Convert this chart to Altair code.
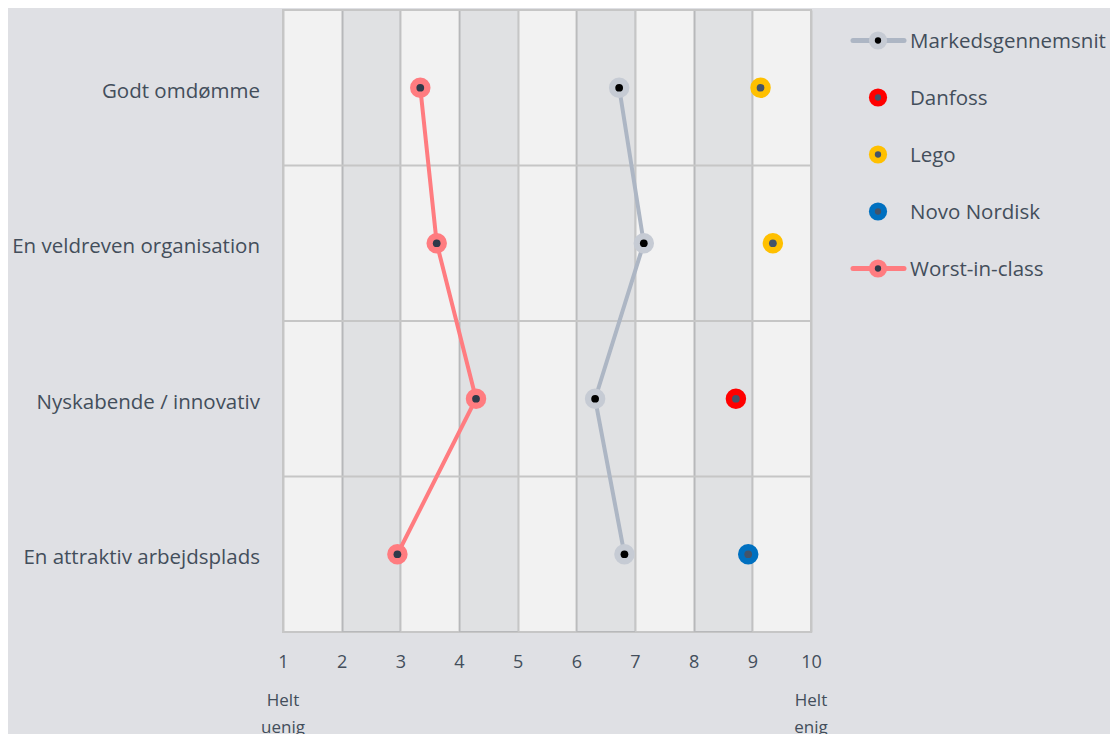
import altair as alt
import pandas as pd

# ---- data ----
categories = ["Godt omdømme", "En veldreven organisation",
              "Nyskabende / innovativ", "En attraktiv arbejdsplads"]
series_names = ["Markedsgennemsnit", "Danfoss", "Lego", "Novo Nordisk", "Worst-in-class"]

market_avg = [6.73, 7.15, 6.32, 6.82]
worst_in_class = [3.34, 3.62, 4.29, 2.95]
danfoss_cats = ["Nyskabende / innovativ"]
danfoss_vals = [8.72]
lego_cats = ["Godt omdømme", "En veldreven organisation"]
lego_vals = [9.14, 9.35]
novo_cats = ["En attraktiv arbejdsplads"]
novo_vals = [8.93]

x_ticks = list(range(1, 11))
dark_stripe_starts = [2, 4, 6, 8]
scale_end_values = [1, 10]
scale_end_labels = ["Helt\nuenig", "Helt\nenig"]

# ---- styles ----
outer_colors = ["#c6cbd4", "#ff0000", "#ffc000", "#0070c0", "#ff7c80"]
inner_colors = ["#000000", "#44546a", "#44546a", "#44546a", "#2f3a4a"]
line_series = ["Markedsgennemsnit", "Worst-in-class"]
line_colors = ["#adb6c4", "#ff7c80"]
TEXT = "#434e5b"
GRID = "#c6c6c6"
FONT = "Open Sans"

outer_map = dict(zip(series_names, outer_colors))
inner_map = dict(zip(series_names, inner_colors))
line_map = dict(zip(line_series, line_colors))

rows = []
for s, cats, vals in [
    ("Markedsgennemsnit", categories, market_avg),
    ("Worst-in-class", categories, worst_in_class),
    ("Danfoss", danfoss_cats, danfoss_vals),
    ("Lego", lego_cats, lego_vals),
    ("Novo Nordisk", novo_cats, novo_vals),
]:
    for c, v in zip(cats, vals):
        rows.append({"series": s, "category": c, "value": v,
                     "idx": categories.index(c),
                     "outer": outer_map[s], "inner": inner_map[s],
                     "line": line_map.get(s, "")})
df = pd.DataFrame(rows)
lines_df = df[df["series"].isin(line_series)]
cat_df = pd.DataFrame({"category": categories})

stripes_df = pd.DataFrame({"start": dark_stripe_starts})
ends_df = pd.DataFrame({"pos": scale_end_values, "label": scale_end_labels})

W, H = 528, 622

xscale = alt.Scale(domain=[1, 10], nice=False, zero=False)
xaxis = alt.Axis(values=x_ticks, title=None, format="d", labelFontSize=18,
                 labelColor=TEXT, labelFont=FONT, ticks=False, domain=False,
                 grid=True, gridColor=GRID, gridWidth=2, labelPadding=21,
                 labelFlush=False)
yscale = alt.Scale(type="band", paddingInner=0, paddingOuter=0)
yenc = alt.Y("category:N", sort=categories, scale=yscale, axis=None)

stripes = alt.Chart(stripes_df).transform_calculate(
    end="datum.start + 1"
).mark_rect(color="#0e1a33", opacity=0.08).encode(
    x=alt.X("start:Q", scale=xscale, axis=xaxis),
    x2="end:Q",
)

# horizontal separators at the band boundaries
row_lines = alt.Chart(cat_df).mark_rule(color=GRID, strokeWidth=2).encode(
    y=alt.Y("category:N", sort=categories, scale=yscale, bandPosition=0,
            axis=None),
)

# category labels (left of the plot)
row_labels = alt.Chart(cat_df).mark_text(
    align="right", baseline="middle", fontSize=20.5, color=TEXT, font=FONT,
    dy=4
).encode(
    x=alt.value(-23),
    y=yenc,
    text="category:N",
)

lines = alt.Chart(lines_df).mark_line(strokeWidth=4).encode(
    x=alt.X("value:Q", scale=xscale, axis=xaxis),
    y=yenc,
    color=alt.Color("line:N", scale=None),
    detail="series:N",
    order="idx:Q",
)

outer = alt.Chart(df).mark_point(filled=True, opacity=1, size=420).encode(
    x=alt.X("value:Q", scale=xscale, axis=xaxis),
    y=yenc,
    color=alt.Color("outer:N", scale=None),
)
inner = alt.Chart(df).mark_point(filled=True, opacity=1, size=60).encode(
    x=alt.X("value:Q", scale=xscale, axis=xaxis),
    y=yenc,
    color=alt.Color("inner:N", scale=None),
)

ends = alt.Chart(ends_df).mark_text(
    lineBreak="\n", baseline="top", fontSize=17, lineHeight=27,
    color=TEXT, font=FONT
).encode(
    x=alt.X("pos:Q", scale=xscale, axis=xaxis),
    y=alt.value(H + 61),
    text="label:N",
)

main = alt.layer(stripes, row_lines, row_labels, lines, outer, inner, ends)

# ---- custom legend (to the right of the plot) ----
leg_df = pd.DataFrame({
    "name": series_names,
    "outer": outer_colors,
    "inner": inner_colors,
    "line": [line_map.get(s, "") for s in series_names],
})
legy = alt.Y("name:N", sort=series_names,
             scale=alt.Scale(type="band", range=[2, 287],
                             paddingInner=0, paddingOuter=0),
             axis=None)
LX = W + 40
leg_base = alt.Chart(leg_df)
leg_lines = leg_base.transform_filter("datum.line != ''").mark_rule(
    strokeWidth=5, strokeCap="round").encode(
    x=alt.value(LX + 2), x2=alt.value(LX + 53), y=legy,
    color=alt.Color("line:N", scale=None),
)
leg_outer = leg_base.mark_point(filled=True, opacity=1, size=330).encode(
    x=alt.value(LX + 27), y=legy, color=alt.Color("outer:N", scale=None))
leg_inner = leg_base.mark_point(filled=True, opacity=1, size=40).encode(
    x=alt.value(LX + 27), y=legy, color=alt.Color("inner:N", scale=None))
leg_text = leg_base.mark_text(align="left", baseline="middle", fontSize=20.5,
                              color=TEXT, font=FONT, dy=1).encode(
    x=alt.value(LX + 59), y=legy, text="name:N")

legend = alt.layer(leg_lines, leg_outer, leg_inner, leg_text)

chart = alt.layer(main, legend).resolve_scale(y="independent").properties(
    width=W, height=H,
    view=alt.ViewBackground(fill="#f2f2f2", stroke=GRID, strokeWidth=2),
    background="#dfe0e4",
    autosize=alt.AutoSizeParams(type="none"),
    padding={"left": 275, "top": 2, "right": 299, "bottom": 102},
).configure(font=FONT)

chart.save("out.html", embed_options={"renderer": "svg", "actions": False})
